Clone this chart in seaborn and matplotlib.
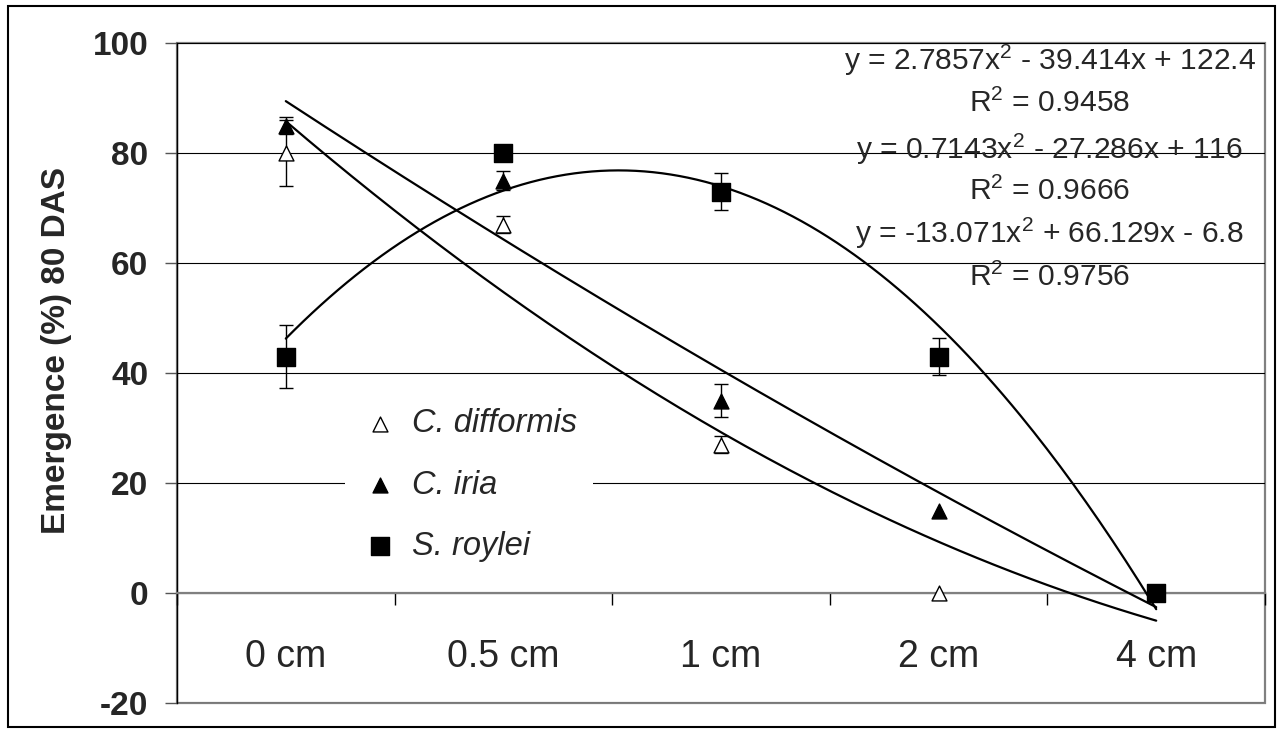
import numpy as np
import pandas as pd
import seaborn as sns
import matplotlib.pyplot as plt
from matplotlib.patches import Rectangle

# data
depths = ["0 cm", "0.5 cm", "1 cm", "2 cm", "4 cm"]
species = ["C. difformis", "C. iria", "S. roylei"]
difformis = [80, 67, 27, 0, 0]
iria = [85, 75, 35, 15, 0]
roylei = [43, 80, 73, 43, 0]
difformis_err = [6.0, 1.6, 1.5, 0, 0]
iria_err = [1.5, 1.8, 3.0, 0, 0]
roylei_err = [5.7, 0, 3.3, 3.4, 0]

equations = ["y = 2.7857x$^2$ - 39.414x + 122.4",
             "y = 0.7143x$^2$ - 27.286x + 116",
             "y = -13.071x$^2$ + 66.129x - 6.8"]
r_squared = ["R$^2$ = 0.9458", "R$^2$ = 0.9666", "R$^2$ = 0.9756"]

pos = np.arange(1, len(depths) + 1)
df = pd.DataFrame({
    "species": np.repeat(species, len(depths)),
    "depth": depths * 3,
    "pos": np.tile(pos, 3),
    "emergence": difformis + iria + roylei,
    "err": difformis_err + iria_err + roylei_err,
})

sns.set_style("white")
plt.rcParams["font.family"] = ["Liberation Sans", "DejaVu Sans"]
plt.rcParams["mathtext.fontset"] = "custom"
plt.rcParams["mathtext.rm"] = "Liberation Sans"
plt.rcParams["mathtext.default"] = "regular"
plt.rcParams["axes.unicode_minus"] = False

fig = plt.figure(figsize=(12.81, 7.33), dpi=100)
ax = fig.add_axes([177 / 1281, 1 - 703 / 733, (1265 - 177) / 1281, (703 - 43) / 733])

styles = {
    "C. difformis": dict(marker="^", color="white", s=115),
    "C. iria": dict(marker="^", color="black", s=115),
    "S. roylei": dict(marker="s", color="black", s=170),
}

for name in species:
    sub = df[df["species"] == name]
    # quadratic trendline, like Excel's polynomial fit
    coef = np.polyfit(sub["pos"], sub["emergence"], 2)
    xs = np.linspace(pos.min(), pos.max(), 200)
    sns.lineplot(x=xs, y=np.polyval(coef, xs), color="black", lw=1.6, ax=ax, zorder=4)
    eb = sub[sub["err"] > 0]
    ax.errorbar(eb["pos"], eb["emergence"], yerr=eb["err"], fmt="none",
                ecolor="black", elinewidth=1, capsize=5, capthick=1, zorder=2)
    sns.scatterplot(x=sub["pos"], y=sub["emergence"], edgecolor="black",
                    linewidth=1, ax=ax, label=name, zorder=3, **styles[name])

ax.set_xlim(0.5, 5.5)
ax.set_ylim(-20, 100)
ax.set_yticks(np.arange(-20, 101, 20))
ax.yaxis.grid(True, color="black", lw=0.8)
ax.set_axisbelow(True)

for lab in ax.get_yticklabels():
    lab.set_fontweight("bold")
ax.tick_params(axis="y", labelsize=24, length=8.6, width=1, color="#555555",
               direction="out", left=True, pad=12)

ax.spines["bottom"].set_position(("data", 0))
ax.spines["bottom"].set_color("#808080")
ax.spines["bottom"].set_linewidth(1.6)
ax.spines["left"].set_color("black")
ax.spines["left"].set_linewidth(1)
ax.spines["top"].set_visible(False)
ax.spines["right"].set_visible(False)
ax.patch.set_edgecolor("#808080")
ax.patch.set_linewidth(1.6)

ax.set_xticks(np.arange(0.5, 5.6, 1.0), labels=[""] * 6)
ax.set_xticks(pos, labels=depths, minor=True)
ax.tick_params(axis="x", which="major", bottom=True, length=8.6, width=1,
               color="black", direction="out")
ax.tick_params(axis="x", which="minor", bottom=True, length=0, labelsize=27, pad=33)
ax.set_xlabel("")
ax.set_ylabel("")

fig.text(57 / 1281, 1 - 350 / 733, "Emergence (%) 80 DAS", rotation=90,
         ha="center", va="center", fontsize=24, fontweight="bold")

eq_y = [95.1, 78.9, 63.6]
r_y = [87.5, 71.5, 55.8]
for eq, r2, y1, y2 in zip(equations, r_squared, eq_y, r_y):
    ax.text(4.51, y1, eq, ha="center", va="baseline", fontsize=21.6, zorder=5)
    ax.text(4.51, y2, r2, ha="center", va="baseline", fontsize=21.6, zorder=5)

leg = ax.legend(loc="upper left", bbox_to_anchor=(345 / 1281, 1 - 392 / 733),
                bbox_transform=fig.transFigure, borderaxespad=0, frameon=True,
                facecolor="white", edgecolor="none", framealpha=1, fancybox=False,
                prop=dict(family="Liberation Sans", style="italic", size=23.5),
                handlelength=1.15, handletextpad=0.4, labelspacing=0.93,
                borderpad=0.5)
leg.set_zorder(6)

fig.patches.append(Rectangle((8 / 1281, 1 - 727 / 733), (1275 - 8) / 1281,
                             (727 - 6) / 733, transform=fig.transFigure,
                             fill=False, edgecolor="black", lw=1.5))

fig.savefig("out.png", dpi=100)
